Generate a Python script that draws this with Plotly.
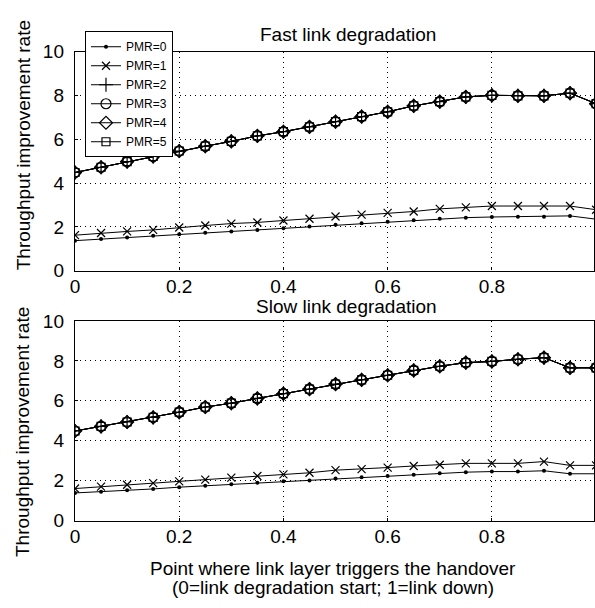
import plotly.graph_objects as go

# ---------------- data ----------------
x_vals = [0.0, 0.05, 0.1, 0.15, 0.2, 0.25, 0.3, 0.35, 0.4, 0.45, 0.5,
          0.55, 0.6, 0.65, 0.7, 0.75, 0.8, 0.85, 0.9, 0.95, 1.0]

fast_pmr0 = [1.37, 1.44, 1.51, 1.59, 1.66, 1.73, 1.79, 1.86, 1.94, 2.01, 2.10,
             2.16, 2.23, 2.30, 2.37, 2.42, 2.45, 2.46, 2.46, 2.50, 2.35]
fast_pmr1 = [1.62, 1.72, 1.79, 1.86, 1.97, 2.06, 2.15, 2.20, 2.29, 2.37, 2.47,
             2.56, 2.64, 2.70, 2.82, 2.89, 2.95, 2.95, 2.95, 2.95, 2.78]
fast_high = [4.48, 4.72, 4.98, 5.21, 5.46, 5.68, 5.90, 6.15, 6.34, 6.56, 6.80,
             7.03, 7.25, 7.52, 7.71, 7.93, 8.00, 7.98, 7.98, 8.10, 7.62]

slow_pmr0 = [1.39, 1.45, 1.53, 1.59, 1.68, 1.75, 1.82, 1.90, 1.97, 2.01, 2.11,
             2.17, 2.24, 2.30, 2.37, 2.43, 2.46, 2.46, 2.50, 2.35, 2.35]
slow_pmr1 = [1.61, 1.71, 1.80, 1.88, 1.97, 2.06, 2.16, 2.24, 2.32, 2.40, 2.53,
             2.58, 2.66, 2.74, 2.80, 2.87, 2.87, 2.87, 2.96, 2.77, 2.77]
slow_high = [4.49, 4.72, 4.94, 5.17, 5.43, 5.69, 5.88, 6.12, 6.36, 6.59, 6.84,
             7.05, 7.28, 7.52, 7.73, 7.91, 7.97, 8.08, 8.16, 7.65, 7.65]

series_names = ["PMR=0", "PMR=1", "PMR=2", "PMR=3", "PMR=4", "PMR=5"]
fast_series = [fast_pmr0, fast_pmr1, fast_high, fast_high, fast_high, fast_high]
slow_series = [slow_pmr0, slow_pmr1, slow_high, slow_high, slow_high, slow_high]

x_ticks = [0, 0.2, 0.4, 0.6, 0.8, 1]
x_tick_labels = ["0", "0.2", "0.4", "0.6", "0.8", "1"]
y_ticks = [0, 2, 4, 6, 8, 10]
y_tick_labels = ["0", "2", "4", "6", "8", "10"]

titles = ["Fast link degradation", "Slow link degradation"]
y_title = "Throughput improvement rate"
x_title_lines = ["Point where link layer triggers the handover",
                 "(0=link degradation start; 1=link down)"]

# ---------------- styles ----------------
FONT = "Liberation Sans, Arial, Helvetica, sans-serif"
FS = 19
marker_styles = [
    dict(symbol="circle", size=4, color="black"),
    dict(symbol="x-thin-open", size=8, color="black", line=dict(width=1.2, color="black")),
    dict(symbol="cross-thin-open", size=10, color="black", line=dict(width=1.2, color="black")),
    dict(symbol="circle-open", size=10, color="black", line=dict(width=1.2, color="black")),
    dict(symbol="diamond-open", size=10, color="black", line=dict(width=1.2, color="black")),
    dict(symbol="square-open", size=8, color="black", line=dict(width=1.2, color="black")),
]

fig = go.Figure()
for data_list, (xa, ya), show in [(fast_series, ("x", "y"), True),
                                  (slow_series, ("x2", "y2"), False)]:
    for name, vals, ms in zip(series_names, data_list, marker_styles):
        fig.add_trace(go.Scatter(
            x=x_vals, y=vals, name=name, mode="lines+markers",
            line=dict(color="black", width=1),
            marker=ms, xaxis=xa, yaxis=ya, showlegend=show,
        ))

W, H = 595, 608
L = 75
PW = W - L
top_dom = [1 - 270 / H, 1 - 43 / H]
bot_dom = [1 - 529 / H, 1 - 322 / H]
xr = [0, 0.996]

axis_common = dict(
    showline=True, linecolor="black", linewidth=1.4, mirror=True,
    showgrid=True, gridcolor="black", griddash="1px,4px", gridwidth=1,
    zeroline=False, ticks="inside", ticklen=3, tickcolor="black",
    tickfont=dict(family=FONT, size=FS, color="black"),
)

fig.update_layout(
    width=W, height=H,
    margin=dict(l=L, r=0, t=0, b=0),
    paper_bgcolor="white", plot_bgcolor="white",
    font=dict(family=FONT, color="black"),
    xaxis=dict(domain=[0, 1], anchor="y", range=xr, tickvals=x_ticks,
               ticktext=x_tick_labels, ticklabelstandoff=-2, **axis_common),
    yaxis=dict(domain=top_dom, anchor="x", range=[0, 10], tickvals=y_ticks,
               ticktext=y_tick_labels, ticklabelstandoff=6, **axis_common),
    xaxis2=dict(domain=[0, 1], anchor="y2", range=xr, tickvals=x_ticks,
                ticktext=x_tick_labels, ticklabelstandoff=-2, **axis_common),
    yaxis2=dict(domain=bot_dom, anchor="x2", range=[0, 10], tickvals=y_ticks,
                ticktext=y_tick_labels, ticklabelstandoff=6, **axis_common),
    legend=dict(
        x=(85 - L) / PW, y=1 - 22 / H, xanchor="left", yanchor="top",
        bgcolor="white", bordercolor="black", borderwidth=1,
        font=dict(family=FONT, size=12, color="black"),
        tracegroupgap=0, itemwidth=30,
    ),
    showlegend=True,
)

def ann(text, xpix, ypix, **kw):
    d = dict(text=text, x=(xpix - L) / PW, y=1 - ypix / H, xref="paper", yref="paper",
             showarrow=False, font=dict(family=FONT, size=FS, color="black"),
             xanchor="center", yanchor="middle")
    d.update(kw)
    return d

annotations = [
    ann(titles[0], 349, 25),
    ann(titles[1], 347, 307),
    ann(y_title, 23, 140, textangle=-90),
    ann(y_title, 23, 437, textangle=-90),
    ann(x_title_lines[0], 333, 578),
    ann(x_title_lines[1], 333, 598),
]
fig.update_layout(annotations=annotations)

fig.write_html("out.html")
